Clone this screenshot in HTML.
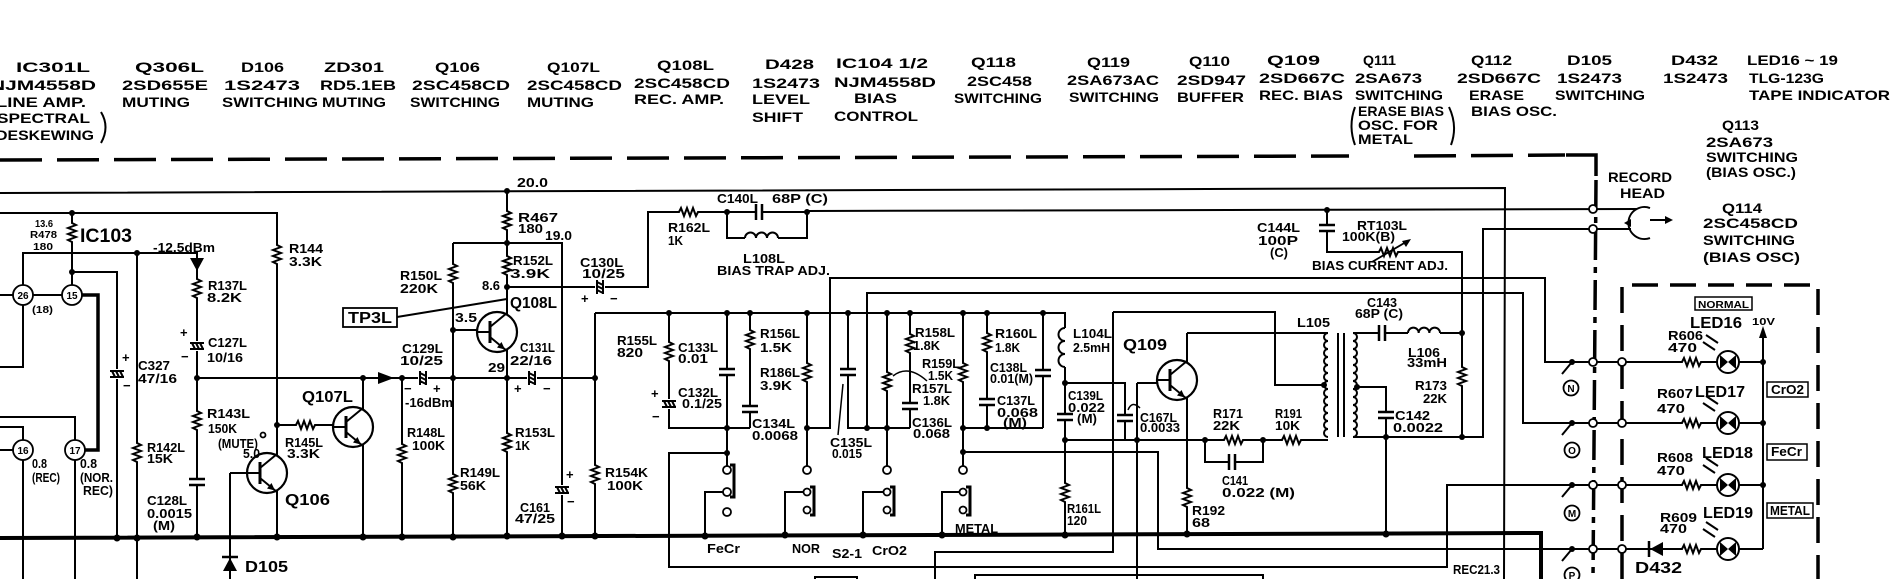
<!DOCTYPE html>
<html><head><meta charset="utf-8">
<style>
html,body{margin:0;padding:0;background:#fff;}
svg{display:block;}
text{font-family:"Liberation Sans",Arial,sans-serif;font-weight:bold;fill:#000;}
.h{font-size:14px;}
.s{font-size:13px;}
.t{font-size:10px;}
.m{font-size:16px;}
.xl{font-size:19px;}
.w{fill:none;stroke:#000;stroke-width:2;}
</style></head><body>
<svg xmlns="http://www.w3.org/2000/svg" width="1903" height="579" viewBox="0 0 1903 579">
<defs>
<g id="rv"><rect x="-6" y="-11" width="12" height="23" fill="#fff"/><path d="M0,-11 v2 l4,2 l-8,3 l8,3 l-8,3 l8,3 l-8,3 l4,2 v2" fill="none" stroke="#000" stroke-width="2"/></g>
<g id="rh"><rect x="-11" y="-6" width="23" height="12" fill="#fff"/><path d="M-11,0 h2 l2,-4 l3,8 l3,-8 l3,8 l3,-8 l3,8 l2,-4 h2" fill="none" stroke="#000" stroke-width="2"/></g>
<g id="cv"><rect x="-9" y="-4" width="18" height="8" fill="#fff"/><path d="M-8,-3 h16 M-8,3 h16" stroke="#000" stroke-width="2.5"/></g>
<g id="ch"><rect x="-4" y="-9" width="8" height="18" fill="#fff"/><path d="M-3,-8 v16 M3,-8 v16" stroke="#000" stroke-width="2.5"/></g>
<g id="ev"><rect x="-8" y="-5" width="16" height="10" fill="#fff"/><path d="M-7,-3 h14 M-7,3 h14 M-5,-3 l3,6 M-1,-3 l3,6 M3,-3 l3,6" stroke="#000" stroke-width="2"/></g>
<g id="eh"><rect x="-5" y="-8" width="10" height="16" fill="#fff"/><path d="M-3,-7 v14 M3,-7 v14 M-3,-5 l6,3 M-3,-1 l6,3 M-3,3 l6,3" stroke="#000" stroke-width="2"/></g>
<g id="q"><circle r="20" fill="#fff" stroke="#000" stroke-width="2.2"/><path d="M-20,0 H-7" stroke="#000" stroke-width="2"/><path d="M-7,-11 V11" stroke="#000" stroke-width="3"/><path d="M-7,-5 L10,-19 M-7,5 L10,19" stroke="#000" stroke-width="2"/><path d="M8,17.5 L0,15.5 L4.5,10 Z" fill="#000"/></g>
<g id="led"><circle r="11" fill="#fff" stroke="#000" stroke-width="2"/><path d="M-8,-7 L0,0 L-8,7 Z M8,-7 L0,0 L8,7 Z" fill="#000"/><path d="M-22,-27 l12,8 M-25,-20 l12,8" stroke="#000" stroke-width="2"/></g>
</defs>

<!-- dashed borders -->
<path d="M0,160 L1349,156 M1414,156 L1565,155" fill="none" stroke="#000" stroke-width="3.5" stroke-dasharray="42 15"/>
<path d="M1566,155 H1596 V176" fill="none" stroke="#000" stroke-width="3.5"/>
<path d="M1596,180 L1593,579" fill="none" stroke="#000" stroke-width="3.5" stroke-dasharray="30 7 6 7"/>
<path d="M1622,579 V285 H1818 V579" fill="none" stroke="#000" stroke-width="3.5" stroke-dasharray="26 12"/>
<path d="M101,112 Q110,127 101,143 M1355,107 Q1348,126 1355,145 M1449,107 Q1458,126 1451,145" fill="none" stroke="#000" stroke-width="2"/>

<!-- wires -->
<path class="w" d="M0,193 L1505,188 L1504,579"/>
<path class="w" d="M0,213 H277 V538 M72,213 V285"/>
<path class="w" d="M23,285 V253 H197 V538 M137,253 V579 M72,272 H117 V538"/>
<path class="w" d="M0,295 H13 M33,295 H62 M23,305 V367 H0"/>
<path d="M82,295 H98 V450 H85" fill="none" stroke="#000" stroke-width="3.5"/>
<path class="w" d="M0,417 H75 V440 M0,427 H23 V440 M0,450 H13 M23,460 V579 M75,460 V579"/>
<path class="w" d="M197,378 H595 M277,425 H333 M363,378 V538 M402,378 V538"/>
<path class="w" d="M453,243 V538 M453,243 H562 V538 M453,330 H477 M507,191 V538"/>
<path class="w" d="M507,287 H648 V212 H727 M727,212 H807 M727,212 V238 H745 M778,238 H807 V212 M807,211 L1637,209"/>
<path class="w" d="M595,313 V538 M595,313 H1065 V328"/>
<path class="w" d="M669,313 V428 H750 M727,313 V466 M750,313 V428"/>
<path class="w" d="M727,453 H669 V567 H1447 V485 H1763"/>
<path class="w" d="M807,313 V466 M807,428 H830 V278 H1545 V362 H1763"/>
<path class="w" d="M848,313 V428 H910 M867,428 V293 H1523 V423 H1763"/>
<path class="w" d="M887,313 V466 M910,313 V428 M963,313 V466 M963,428 H1043 M987,313 V428 M1043,313 V428"/>
<path class="w" d="M963,452 H1158 V549 H1763"/>
<path class="w" d="M1065,367 V536 M1065,383 H1125 V440 M1065,440 H1328"/>
<path class="w" d="M1205,440 V462 H1263 V440"/>
<path class="w" d="M1137,383 V579 M1137,383 H1157 M1187,333 V535 M1187,333 H1328"/>
<path class="w" d="M1113,312 V552 H935 V579 M1113,312 H1275 V385 H1324"/>
<path class="w" d="M1353,333 H1408 M1440,333 H1462 M1353,437 H1483 V229 H1631 M1357,387 H1386 V534"/>
<path class="w" d="M1327,210 V252 H1462 V437 M1763,332 V549"/>
<path class="w" d="M705,537 V492 H723 M785,536 V492 H803 M863,536 V492 H883 M942,536 V492 H959"/>
<path class="w" d="M230,473 H247 M230,473 V579"/>
<path class="w" d="M815,579 V577 H857 V579 M975,579 V575 H1263 V579"/>
<path class="w" d="M397,317 L507,299"/>
<path d="M0,538 L1541,533 L1541,579" fill="none" stroke="#000" stroke-width="4"/>

<!-- coils -->
<path class="w" d="M745,238 a5.5,5.5 0 0 1 11,0 a5.5,5.5 0 0 1 11,0 a5.5,5.5 0 0 1 11,0"/>
<path class="w" d="M1065,328 a6.5,6.5 0 0 0 0,13 a6.5,6.5 0 0 0 0,13 a6.5,6.5 0 0 0 0,13"/>
<path class="w" d="M1408,333 a5.33,5.33 0 0 1 10.67,0 a5.33,5.33 0 0 1 10.67,0 a5.33,5.33 0 0 1 10.67,0"/>
<path class="w" d="M1328,333 a4,4 0 0 0 0,8 a4,4 0 0 0 0,8 a4,4 0 0 0 0,8 a4,4 0 0 0 0,8 a4,4 0 0 0 0,8 a4,4 0 0 0 0,8 a4,4 0 0 0 0,8 a4,4 0 0 0 0,8 a4,4 0 0 0 0,8 a4,4 0 0 0 0,8 a4,4 0 0 0 0,8 a4,4 0 0 0 0,8 a4,4 0 0 0 0,8"/>
<path class="w" d="M1353,333 a4,4 0 0 1 0,8 a4,4 0 0 1 0,8 a4,4 0 0 1 0,8 a4,4 0 0 1 0,8 a4,4 0 0 1 0,8 a4,4 0 0 1 0,8 a4,4 0 0 1 0,8 a4,4 0 0 1 0,8 a4,4 0 0 1 0,8 a4,4 0 0 1 0,8 a4,4 0 0 1 0,8 a4,4 0 0 1 0,8 a4,4 0 0 1 0,8"/>
<path class="w" d="M1338,333 V437 M1344,333 V437"/>

<!-- resistors -->
<use href="#rv" x="72" y="232"/><use href="#rv" x="277" y="254"/><use href="#rv" x="197" y="288"/><use href="#rv" x="197" y="420"/>
<use href="#rv" x="137" y="452"/><use href="#rv" x="402" y="453"/><use href="#rv" x="453" y="273"/><use href="#rv" x="453" y="483"/>
<use href="#rv" x="507" y="220"/><use href="#rv" x="507" y="265"/><use href="#rv" x="507" y="442"/><use href="#rv" x="595" y="474"/>
<use href="#rv" x="669" y="351"/><use href="#rv" x="750" y="339"/><use href="#rv" x="807" y="372"/><use href="#rv" x="887" y="381"/>
<use href="#rv" x="910" y="343"/><use href="#rv" x="963" y="372"/><use href="#rv" x="987" y="342"/><use href="#rv" x="1065" y="492"/>
<use href="#rv" x="1187" y="497"/><use href="#rv" x="1462" y="376"/>
<use href="#rh" x="305" y="425"/><use href="#rh" x="688" y="212"/><use href="#rh" x="1233" y="440"/><use href="#rh" x="1291" y="440"/>
<use href="#rh" x="1388" y="252"/><use href="#rh" x="1691" y="362"/><use href="#rh" x="1691" y="423"/><use href="#rh" x="1691" y="485"/><use href="#rh" x="1691" y="549"/>
<!-- capacitors -->
<use href="#cv" x="197" y="482"/><use href="#cv" x="727" y="372"/><use href="#cv" x="750" y="409"/><use href="#cv" x="848" y="372"/>
<use href="#cv" x="910" y="406"/><use href="#cv" x="987" y="402"/><use href="#cv" x="1043" y="373"/><use href="#cv" x="1065" y="417"/>
<use href="#cv" x="1125" y="418"/><use href="#cv" x="1327" y="228"/><use href="#cv" x="1386" y="415"/>
<use href="#ch" x="759" y="212"/><use href="#ch" x="1232" y="462"/><use href="#ch" x="1382" y="333"/>
<use href="#ev" x="117" y="374"/><use href="#ev" x="197" y="346"/><use href="#ev" x="669" y="404"/><use href="#ev" x="562" y="490"/>
<use href="#eh" x="600" y="287"/><use href="#eh" x="423" y="378"/><use href="#eh" x="532" y="378"/>
<!-- transistors -->
<use href="#q" x="497" y="332"/><use href="#q" x="353" y="427"/><use href="#q" x="267" y="473"/><use href="#q" x="1177" y="380"/>
<!-- LEDs -->
<use href="#led" x="1728" y="362"/><use href="#led" x="1728" y="423"/><use href="#led" x="1728" y="485"/><use href="#led" x="1728" y="549"/>

<!-- misc symbols -->
<path d="M1372,262 L1406,242" stroke="#000" stroke-width="1.8"/><polygon points="1411,239 1402,241 1406,247" fill="#000"/>
<path d="M893,376 Q908,364 927,381 M838,435 L843,384 M1128,410 Q1132,400 1140,408" fill="none" stroke="#000" stroke-width="1.5"/>
<polygon points="190,258 204,258 197,271" fill="#000"/>
<polygon points="378,372 378,384 394,378" fill="#000"/>
<polygon points="223,571 237,571 230,558" fill="#000"/><path d="M222,557 H238" stroke="#000" stroke-width="2.5"/>
<polygon points="1663,542 1663,556 1650,549" fill="#000"/><path d="M1649,541 V557" stroke="#000" stroke-width="2.5"/>
<polygon points="1763,326 1759,338 1767,338" fill="#000"/>
<path d="M1650,208 A16,16 0 1 0 1650,238" fill="none" stroke="#000" stroke-width="2"/>
<polygon points="1624,223 1631,219 1631,227" fill="#000"/>
<path d="M1650,220 H1667" stroke="#000" stroke-width="2"/><polygon points="1673,220 1665,216 1665,224" fill="#000"/>
<path d="M730,465 H734 V497 H730 M810,487 H814 V515 H810 M890,487 H894 V515 H890 M966,487 H970 V515 H966" fill="none" stroke="#000" stroke-width="3"/>
<path d="M1572,362 L1562,374 M1572,423 L1562,435 M1572,485 L1562,497 M1572,549 L1562,561" stroke="#000" stroke-width="2"/>
<rect x="343" y="308" width="54" height="19" fill="#fff" stroke="#000" stroke-width="1.8"/>
<rect x="1695" y="297" width="57" height="13" fill="#fff" stroke="#000" stroke-width="1.5"/>
<rect x="1767" y="382" width="41" height="15" fill="#fff" stroke="#000" stroke-width="1.5"/>
<rect x="1767" y="444" width="40" height="16" fill="#fff" stroke="#000" stroke-width="1.5"/>
<rect x="1767" y="503" width="46" height="15" fill="#fff" stroke="#000" stroke-width="1.5"/>

<!-- open circles -->
<g fill="#fff" stroke="#000" stroke-width="1.8">
<circle cx="23" cy="295" r="10"/><circle cx="72" cy="295" r="10"/><circle cx="23" cy="450" r="10"/><circle cx="75" cy="450" r="10"/>
<circle cx="1593" cy="209" r="4"/><circle cx="1593" cy="229" r="4"/><circle cx="1593" cy="362" r="4"/><circle cx="1593" cy="423" r="4"/><circle cx="1593" cy="485" r="4"/><circle cx="1593" cy="549" r="4"/>
<circle cx="1622" cy="362" r="4"/><circle cx="1622" cy="423" r="4"/><circle cx="1622" cy="485" r="4"/><circle cx="1622" cy="549" r="4"/>
<circle cx="727" cy="470" r="4"/><circle cx="727" cy="492" r="4"/><circle cx="727" cy="512" r="4"/>
<circle cx="807" cy="470" r="4"/><circle cx="807" cy="492" r="3.5"/><circle cx="807" cy="510" r="3.5"/>
<circle cx="887" cy="470" r="4"/><circle cx="887" cy="492" r="3.5"/><circle cx="887" cy="510" r="3.5"/>
<circle cx="963" cy="470" r="4"/><circle cx="963" cy="492" r="3.5"/><circle cx="963" cy="510" r="3.5"/>
<circle cx="1571" cy="388" r="7.5"/><circle cx="1572" cy="450" r="7.5"/><circle cx="1572" cy="513" r="7.5"/><circle cx="1572" cy="575" r="7.5"/>
<circle cx="263" cy="435" r="2.5"/>
</g>

<!-- nodes -->
<g fill="#000">
<circle cx="72" cy="213" r="3"/><circle cx="72" cy="272" r="3"/><circle cx="137" cy="253" r="3"/><circle cx="197" cy="378" r="3"/>
<circle cx="277" cy="425" r="3"/><circle cx="363" cy="378" r="3"/><circle cx="402" cy="378" r="3"/><circle cx="453" cy="330" r="3"/>
<circle cx="453" cy="378" r="3"/><circle cx="507" cy="191" r="3"/><circle cx="507" cy="243" r="3"/><circle cx="507" cy="287" r="3"/>
<circle cx="507" cy="378" r="3"/><circle cx="595" cy="378" r="3"/><circle cx="727" cy="212" r="3"/><circle cx="807" cy="212" r="3"/>
<circle cx="1327" cy="210" r="3"/>
<circle cx="117" cy="538" r="3.5"/><circle cx="137" cy="538" r="3.5"/><circle cx="197" cy="537" r="3.5"/><circle cx="277" cy="537" r="3.5"/>
<circle cx="363" cy="537" r="3.5"/><circle cx="402" cy="537" r="3.5"/><circle cx="453" cy="537" r="3.5"/><circle cx="507" cy="536" r="3.5"/>
<circle cx="562" cy="536" r="3.5"/><circle cx="595" cy="536" r="3.5"/><circle cx="705" cy="536" r="3.5"/><circle cx="785" cy="535" r="3.5"/>
<circle cx="863" cy="535" r="3.5"/><circle cx="942" cy="535" r="3.5"/><circle cx="1065" cy="535" r="3.5"/><circle cx="1187" cy="534" r="3.5"/>
<circle cx="1386" cy="534" r="3.5"/>
<circle cx="669" cy="313" r="3"/><circle cx="727" cy="313" r="3"/><circle cx="750" cy="313" r="3"/><circle cx="807" cy="313" r="3"/>
<circle cx="848" cy="313" r="3"/><circle cx="887" cy="313" r="3"/><circle cx="910" cy="313" r="3"/><circle cx="963" cy="313" r="3"/>
<circle cx="987" cy="313" r="3"/><circle cx="1043" cy="313" r="3"/>
<circle cx="727" cy="428" r="3"/><circle cx="807" cy="428" r="3"/><circle cx="867" cy="428" r="3"/><circle cx="887" cy="428" r="3"/>
<circle cx="963" cy="428" r="3"/><circle cx="987" cy="428" r="3"/><circle cx="727" cy="453" r="3"/><circle cx="963" cy="452" r="3"/>
<circle cx="1065" cy="383" r="3"/><circle cx="1065" cy="440" r="3"/><circle cx="1137" cy="440" r="3"/><circle cx="1205" cy="440" r="3"/>
<circle cx="1263" cy="440" r="3"/><circle cx="1324" cy="385" r="3"/><circle cx="1357" cy="387" r="3"/><circle cx="1386" cy="437" r="3"/>
<circle cx="1462" cy="333" r="3"/><circle cx="1462" cy="437" r="3"/>
<circle cx="1572" cy="362" r="3"/><circle cx="1572" cy="423" r="3"/><circle cx="1572" cy="485" r="3"/><circle cx="1572" cy="549" r="3"/>
<circle cx="1763" cy="362" r="3"/><circle cx="1763" cy="423" r="3"/><circle cx="1763" cy="485" r="3"/>
</g>

<!-- header text -->
<g class="h">
<text x="16" y="72" textLength="74" lengthAdjust="spacingAndGlyphs">IC301L</text>
<text x="-10" y="90" textLength="106" lengthAdjust="spacingAndGlyphs">NJM4558D</text>
<text x="-4" y="107" textLength="90" lengthAdjust="spacingAndGlyphs">LINE AMP.</text>
<text x="-3" y="123" textLength="93" lengthAdjust="spacingAndGlyphs">SPECTRAL</text>
<text x="-4" y="140" textLength="98" lengthAdjust="spacingAndGlyphs">DESKEWING</text>
<text x="135" y="72" textLength="69" lengthAdjust="spacingAndGlyphs">Q306L</text>
<text x="122" y="90" textLength="86" lengthAdjust="spacingAndGlyphs">2SD655E</text>
<text x="122" y="107" textLength="68" lengthAdjust="spacingAndGlyphs">MUTING</text>
<text x="241" y="72" textLength="43" lengthAdjust="spacingAndGlyphs">D106</text>
<text x="224" y="90" textLength="76" lengthAdjust="spacingAndGlyphs">1S2473</text>
<text x="222" y="107" textLength="96" lengthAdjust="spacingAndGlyphs">SWITCHING</text>
<text x="324" y="72" textLength="60" lengthAdjust="spacingAndGlyphs">ZD301</text>
<text x="320" y="90" textLength="76" lengthAdjust="spacingAndGlyphs">RD5.1EB</text>
<text x="322" y="107" textLength="64" lengthAdjust="spacingAndGlyphs">MUTING</text>
<text x="435" y="72" textLength="45" lengthAdjust="spacingAndGlyphs">Q106</text>
<text x="412" y="90" textLength="98" lengthAdjust="spacingAndGlyphs">2SC458CD</text>
<text x="410" y="107" textLength="90" lengthAdjust="spacingAndGlyphs">SWITCHING</text>
<text x="547" y="72" textLength="53" lengthAdjust="spacingAndGlyphs">Q107L</text>
<text x="527" y="90" textLength="95" lengthAdjust="spacingAndGlyphs">2SC458CD</text>
<text x="527" y="107" textLength="67" lengthAdjust="spacingAndGlyphs">MUTING</text>
<text x="657" y="70" textLength="57" lengthAdjust="spacingAndGlyphs">Q108L</text>
<text x="634" y="88" textLength="96" lengthAdjust="spacingAndGlyphs">2SC458CD</text>
<text x="634" y="104" textLength="90" lengthAdjust="spacingAndGlyphs">REC. AMP.</text>
<text x="765" y="69" textLength="49" lengthAdjust="spacingAndGlyphs">D428</text>
<text x="752" y="88" textLength="68" lengthAdjust="spacingAndGlyphs">1S2473</text>
<text x="752" y="104" textLength="58" lengthAdjust="spacingAndGlyphs">LEVEL</text>
<text x="752" y="122" textLength="51" lengthAdjust="spacingAndGlyphs">SHIFT</text>
<text x="836" y="68" textLength="92" lengthAdjust="spacingAndGlyphs">IC104 1/2</text>
<text x="834" y="87" textLength="102" lengthAdjust="spacingAndGlyphs">NJM4558D</text>
<text x="854" y="103" textLength="43" lengthAdjust="spacingAndGlyphs">BIAS</text>
<text x="834" y="121" textLength="84" lengthAdjust="spacingAndGlyphs">CONTROL</text>
<text x="971" y="67" textLength="45" lengthAdjust="spacingAndGlyphs">Q118</text>
<text x="967" y="86" textLength="65" lengthAdjust="spacingAndGlyphs">2SC458</text>
<text x="954" y="103" textLength="88" lengthAdjust="spacingAndGlyphs">SWITCHING</text>
<text x="1087" y="67" textLength="43" lengthAdjust="spacingAndGlyphs">Q119</text>
<text x="1067" y="85" textLength="92" lengthAdjust="spacingAndGlyphs">2SA673AC</text>
<text x="1069" y="102" textLength="90" lengthAdjust="spacingAndGlyphs">SWITCHING</text>
<text x="1189" y="66" textLength="41" lengthAdjust="spacingAndGlyphs">Q110</text>
<text x="1177" y="85" textLength="69" lengthAdjust="spacingAndGlyphs">2SD947</text>
<text x="1177" y="102" textLength="67" lengthAdjust="spacingAndGlyphs">BUFFER</text>
<text x="1267" y="65" textLength="53" lengthAdjust="spacingAndGlyphs">Q109</text>
<text x="1259" y="83" textLength="86" lengthAdjust="spacingAndGlyphs">2SD667C</text>
<text x="1259" y="100" textLength="84" lengthAdjust="spacingAndGlyphs">REC. BIAS</text>
<text x="1363" y="65" textLength="33" lengthAdjust="spacingAndGlyphs">Q111</text>
<text x="1355" y="83" textLength="67" lengthAdjust="spacingAndGlyphs">2SA673</text>
<text x="1355" y="100" textLength="88" lengthAdjust="spacingAndGlyphs">SWITCHING</text>
<text x="1358" y="116" textLength="86" lengthAdjust="spacingAndGlyphs">ERASE BIAS</text>
<text x="1358" y="130" textLength="80" lengthAdjust="spacingAndGlyphs">OSC. FOR</text>
<text x="1358" y="144" textLength="55" lengthAdjust="spacingAndGlyphs">METAL</text>
<text x="1471" y="65" textLength="41" lengthAdjust="spacingAndGlyphs">Q112</text>
<text x="1457" y="83" textLength="84" lengthAdjust="spacingAndGlyphs">2SD667C</text>
<text x="1469" y="100" textLength="55" lengthAdjust="spacingAndGlyphs">ERASE</text>
<text x="1471" y="116" textLength="86" lengthAdjust="spacingAndGlyphs">BIAS OSC.</text>
<text x="1567" y="65" textLength="45" lengthAdjust="spacingAndGlyphs">D105</text>
<text x="1557" y="83" textLength="65" lengthAdjust="spacingAndGlyphs">1S2473</text>
<text x="1555" y="100" textLength="90" lengthAdjust="spacingAndGlyphs">SWITCHING</text>
<text x="1671" y="65" textLength="47" lengthAdjust="spacingAndGlyphs">D432</text>
<text x="1663" y="83" textLength="65" lengthAdjust="spacingAndGlyphs">1S2473</text>
<text x="1747" y="65" textLength="91" lengthAdjust="spacingAndGlyphs">LED16 ~ 19</text>
<text x="1749" y="83" textLength="75" lengthAdjust="spacingAndGlyphs">TLG-123G</text>
<text x="1749" y="100" textLength="141" lengthAdjust="spacingAndGlyphs">TAPE INDICATOR</text>
<text x="1722" y="130" textLength="37" lengthAdjust="spacingAndGlyphs">Q113</text>
<text x="1706" y="147" textLength="67" lengthAdjust="spacingAndGlyphs">2SA673</text>
<text x="1706" y="162" textLength="92" lengthAdjust="spacingAndGlyphs">SWITCHING</text>
<text x="1706" y="177" textLength="90" lengthAdjust="spacingAndGlyphs">(BIAS OSC.)</text>
<text x="1608" y="182" textLength="64" lengthAdjust="spacingAndGlyphs">RECORD</text>
<text x="1620" y="198" textLength="45" lengthAdjust="spacingAndGlyphs">HEAD</text>
<text x="1722" y="213" textLength="40" lengthAdjust="spacingAndGlyphs">Q114</text>
<text x="1703" y="228" textLength="95" lengthAdjust="spacingAndGlyphs">2SC458CD</text>
<text x="1703" y="245" textLength="92" lengthAdjust="spacingAndGlyphs">SWITCHING</text>
<text x="1703" y="262" textLength="97" lengthAdjust="spacingAndGlyphs">(BIAS OSC)</text>
</g>

<!-- body labels -->
<g class="t">
<text x="35" y="227" textLength="18" lengthAdjust="spacingAndGlyphs">13.6</text>
<text x="30" y="238" textLength="27" lengthAdjust="spacingAndGlyphs">R478</text>
<text x="33" y="250" textLength="20" lengthAdjust="spacingAndGlyphs">180</text>
<text x="32" y="313" textLength="21" lengthAdjust="spacingAndGlyphs">(18)</text>
<text x="23" y="299" text-anchor="middle">26</text>
<text x="72" y="299" text-anchor="middle">15</text>
<text x="23" y="454" text-anchor="middle">16</text>
<text x="75" y="454" text-anchor="middle">17</text>
<text x="1571" y="392" text-anchor="middle">N</text>
<text x="1572" y="454" text-anchor="middle">O</text>
<text x="1572" y="517" text-anchor="middle">M</text>
<text x="1572" y="579" text-anchor="middle">P</text>
<text x="1698" y="308" textLength="51" lengthAdjust="spacingAndGlyphs">NORMAL</text>
<text x="1752" y="325" textLength="23" lengthAdjust="spacingAndGlyphs">10V</text>
<text x="1264" y="586" textLength="40" lengthAdjust="spacingAndGlyphs">METAL</text>
<text x="1335" y="586" textLength="49" lengthAdjust="spacingAndGlyphs">NORMAL</text>
<text x="1453" y="587" textLength="47" lengthAdjust="spacingAndGlyphs">REC PAUSE</text>
</g>
<text class="xl" x="80" y="242" textLength="52" lengthAdjust="spacingAndGlyphs">IC103</text>
<text class="m" x="302" y="402" textLength="51" lengthAdjust="spacingAndGlyphs">Q107L</text>
<text class="m" x="285" y="505" textLength="45" lengthAdjust="spacingAndGlyphs">Q106</text>
<text class="m" x="348" y="323" textLength="44" lengthAdjust="spacingAndGlyphs">TP3L</text>
<text class="m" x="510" y="308" textLength="47" lengthAdjust="spacingAndGlyphs">Q108L</text>
<text class="m" x="1123" y="350" textLength="44" lengthAdjust="spacingAndGlyphs">Q109</text>
<text class="m" x="245" y="572" textLength="43" lengthAdjust="spacingAndGlyphs">D105</text>
<text class="m" x="1635" y="573" textLength="47" lengthAdjust="spacingAndGlyphs">D432</text>
<text class="m" x="1690" y="328" textLength="52" lengthAdjust="spacingAndGlyphs">LED16</text>
<text class="m" x="1695" y="397" textLength="50" lengthAdjust="spacingAndGlyphs">LED17</text>
<text class="m" x="1702" y="458" textLength="51" lengthAdjust="spacingAndGlyphs">LED18</text>
<text class="m" x="1703" y="518" textLength="50" lengthAdjust="spacingAndGlyphs">LED19</text>
<g class="s">
<text x="153" y="252" textLength="62" lengthAdjust="spacingAndGlyphs">-12.5dBm</text>
<text x="289" y="253" textLength="34" lengthAdjust="spacingAndGlyphs">R144</text>
<text x="289" y="266" textLength="33" lengthAdjust="spacingAndGlyphs">3.3K</text>
<text x="208" y="290" textLength="39" lengthAdjust="spacingAndGlyphs">R137L</text>
<text x="207" y="302" textLength="35" lengthAdjust="spacingAndGlyphs">8.2K</text>
<text x="208" y="347" textLength="39" lengthAdjust="spacingAndGlyphs">C127L</text>
<text x="207" y="362" textLength="36" lengthAdjust="spacingAndGlyphs">10/16</text>
<text x="180" y="337">+</text><text x="181" y="361">−</text>
<text x="138" y="370" textLength="32" lengthAdjust="spacingAndGlyphs">C327</text>
<text x="138" y="383" textLength="39" lengthAdjust="spacingAndGlyphs">47/16</text>
<text x="122" y="362">+</text><text x="123" y="390">−</text>
<text x="207" y="418" textLength="43" lengthAdjust="spacingAndGlyphs">R143L</text>
<text x="208" y="433" textLength="29" lengthAdjust="spacingAndGlyphs">150K</text>
<text x="147" y="452" textLength="38" lengthAdjust="spacingAndGlyphs">R142L</text>
<text x="147" y="463" textLength="26" lengthAdjust="spacingAndGlyphs">15K</text>
<text x="218" y="448" textLength="40" lengthAdjust="spacingAndGlyphs">(MUTE)</text>
<text x="243" y="458" textLength="17" lengthAdjust="spacingAndGlyphs">5.0</text>
<text x="147" y="505" textLength="40" lengthAdjust="spacingAndGlyphs">C128L</text>
<text x="147" y="518" textLength="45" lengthAdjust="spacingAndGlyphs">0.0015</text>
<text x="153" y="530" textLength="22" lengthAdjust="spacingAndGlyphs">(M)</text>
<text x="32" y="468" textLength="15" lengthAdjust="spacingAndGlyphs">0.8</text>
<text x="32" y="482" textLength="28" lengthAdjust="spacingAndGlyphs">(REC)</text>
<text x="80" y="468" textLength="17" lengthAdjust="spacingAndGlyphs">0.8</text>
<text x="80" y="482" textLength="33" lengthAdjust="spacingAndGlyphs">(NOR.</text>
<text x="83" y="495" textLength="30" lengthAdjust="spacingAndGlyphs">REC)</text>
<text x="285" y="447" textLength="38" lengthAdjust="spacingAndGlyphs">R145L</text>
<text x="287" y="458" textLength="33" lengthAdjust="spacingAndGlyphs">3.3K</text>
<text x="407" y="437" textLength="38" lengthAdjust="spacingAndGlyphs">R148L</text>
<text x="412" y="450" textLength="33" lengthAdjust="spacingAndGlyphs">100K</text>
<text x="402" y="353" textLength="41" lengthAdjust="spacingAndGlyphs">C129L</text>
<text x="400" y="365" textLength="43" lengthAdjust="spacingAndGlyphs">10/25</text>
<text x="404" y="393">−</text><text x="433" y="393">+</text>
<text x="405" y="407" textLength="48" lengthAdjust="spacingAndGlyphs">-16dBm</text>
<text x="400" y="280" textLength="42" lengthAdjust="spacingAndGlyphs">R150L</text>
<text x="400" y="293" textLength="38" lengthAdjust="spacingAndGlyphs">220K</text>
<text x="455" y="322" textLength="22" lengthAdjust="spacingAndGlyphs">3.5</text>
<text x="460" y="477" textLength="40" lengthAdjust="spacingAndGlyphs">R149L</text>
<text x="460" y="490" textLength="26" lengthAdjust="spacingAndGlyphs">56K</text>
<text x="517" y="187" textLength="31" lengthAdjust="spacingAndGlyphs">20.0</text>
<text x="518" y="222" textLength="40" lengthAdjust="spacingAndGlyphs">R467</text>
<text x="518" y="233" textLength="25" lengthAdjust="spacingAndGlyphs">180</text>
<text x="545" y="240" textLength="27" lengthAdjust="spacingAndGlyphs">19.0</text>
<text x="513" y="265" textLength="40" lengthAdjust="spacingAndGlyphs">R152L</text>
<text x="510" y="278" textLength="40" lengthAdjust="spacingAndGlyphs">3.9K</text>
<text x="482" y="290" textLength="18" lengthAdjust="spacingAndGlyphs">8.6</text>
<text x="488" y="372" textLength="17" lengthAdjust="spacingAndGlyphs">29</text>
<text x="520" y="352" textLength="35" lengthAdjust="spacingAndGlyphs">C131L</text>
<text x="510" y="365" textLength="42" lengthAdjust="spacingAndGlyphs">22/16</text>
<text x="514" y="393">+</text><text x="543" y="393">−</text>
<text x="515" y="437" textLength="40" lengthAdjust="spacingAndGlyphs">R153L</text>
<text x="515" y="450" textLength="15" lengthAdjust="spacingAndGlyphs">1K</text>
<text x="520" y="512" textLength="30" lengthAdjust="spacingAndGlyphs">C161</text>
<text x="515" y="523" textLength="40" lengthAdjust="spacingAndGlyphs">47/25</text>
<text x="566" y="479">+</text><text x="567" y="506">−</text>
<text x="580" y="267" textLength="43" lengthAdjust="spacingAndGlyphs">C130L</text>
<text x="582" y="278" textLength="43" lengthAdjust="spacingAndGlyphs">10/25</text>
<text x="581" y="303">+</text><text x="610" y="303">−</text>
<text x="668" y="232" textLength="42" lengthAdjust="spacingAndGlyphs">R162L</text>
<text x="668" y="245" textLength="15" lengthAdjust="spacingAndGlyphs">1K</text>
<text x="717" y="203" textLength="41" lengthAdjust="spacingAndGlyphs">C140L</text>
<text x="772" y="203" textLength="56" lengthAdjust="spacingAndGlyphs">68P (C)</text>
<text x="743" y="263" textLength="42" lengthAdjust="spacingAndGlyphs">L108L</text>
<text x="717" y="275" textLength="113" lengthAdjust="spacingAndGlyphs">BIAS TRAP ADJ.</text>
<text x="605" y="477" textLength="43" lengthAdjust="spacingAndGlyphs">R154K</text>
<text x="607" y="490" textLength="36" lengthAdjust="spacingAndGlyphs">100K</text>
<text x="617" y="345" textLength="40" lengthAdjust="spacingAndGlyphs">R155L</text>
<text x="617" y="357" textLength="26" lengthAdjust="spacingAndGlyphs">820</text>
<text x="678" y="352" textLength="40" lengthAdjust="spacingAndGlyphs">C133L</text>
<text x="678" y="363" textLength="30" lengthAdjust="spacingAndGlyphs">0.01</text>
<text x="678" y="397" textLength="40" lengthAdjust="spacingAndGlyphs">C132L</text>
<text x="682" y="408" textLength="40" lengthAdjust="spacingAndGlyphs">0.1/25</text>
<text x="651" y="398">+</text><text x="652" y="421">−</text>
<text x="760" y="338" textLength="40" lengthAdjust="spacingAndGlyphs">R156L</text>
<text x="760" y="352" textLength="32" lengthAdjust="spacingAndGlyphs">1.5K</text>
<text x="760" y="377" textLength="40" lengthAdjust="spacingAndGlyphs">R186L</text>
<text x="760" y="390" textLength="32" lengthAdjust="spacingAndGlyphs">3.9K</text>
<text x="752" y="428" textLength="43" lengthAdjust="spacingAndGlyphs">C134L</text>
<text x="752" y="440" textLength="46" lengthAdjust="spacingAndGlyphs">0.0068</text>
<text x="707" y="553" textLength="33" lengthAdjust="spacingAndGlyphs">FeCr</text>
<text x="792" y="553" textLength="28" lengthAdjust="spacingAndGlyphs">NOR</text>
<text x="832" y="558" textLength="30" lengthAdjust="spacingAndGlyphs">S2-1</text>
<text x="872" y="555" textLength="35" lengthAdjust="spacingAndGlyphs">CrO2</text>
<text x="830" y="447" textLength="42" lengthAdjust="spacingAndGlyphs">C135L</text>
<text x="832" y="458" textLength="30" lengthAdjust="spacingAndGlyphs">0.015</text>
<text x="915" y="337" textLength="40" lengthAdjust="spacingAndGlyphs">R158L</text>
<text x="913" y="350" textLength="27" lengthAdjust="spacingAndGlyphs">1.8K</text>
<text x="922" y="368" textLength="38" lengthAdjust="spacingAndGlyphs">R159L</text>
<text x="928" y="380" textLength="25" lengthAdjust="spacingAndGlyphs">1.5K</text>
<text x="912" y="393" textLength="40" lengthAdjust="spacingAndGlyphs">R157L</text>
<text x="923" y="405" textLength="27" lengthAdjust="spacingAndGlyphs">1.8K</text>
<text x="912" y="427" textLength="40" lengthAdjust="spacingAndGlyphs">C136L</text>
<text x="913" y="438" textLength="37" lengthAdjust="spacingAndGlyphs">0.068</text>
<text x="995" y="338" textLength="42" lengthAdjust="spacingAndGlyphs">R160L</text>
<text x="995" y="352" textLength="25" lengthAdjust="spacingAndGlyphs">1.8K</text>
<text x="990" y="372" textLength="37" lengthAdjust="spacingAndGlyphs">C138L</text>
<text x="990" y="383" textLength="43" lengthAdjust="spacingAndGlyphs">0.01(M)</text>
<text x="997" y="405" textLength="38" lengthAdjust="spacingAndGlyphs">C137L</text>
<text x="997" y="417" textLength="41" lengthAdjust="spacingAndGlyphs">0.068</text>
<text x="1003" y="427" textLength="24" lengthAdjust="spacingAndGlyphs">(M)</text>
<text x="955" y="533" textLength="43" lengthAdjust="spacingAndGlyphs">METAL</text>
<text x="1073" y="338" textLength="39" lengthAdjust="spacingAndGlyphs">L104L</text>
<text x="1073" y="352" textLength="37" lengthAdjust="spacingAndGlyphs">2.5mH</text>
<text x="1068" y="400" textLength="35" lengthAdjust="spacingAndGlyphs">C139L</text>
<text x="1068" y="412" textLength="37" lengthAdjust="spacingAndGlyphs">0.022</text>
<text x="1077" y="423" textLength="20" lengthAdjust="spacingAndGlyphs">(M)</text>
<text x="1140" y="422" textLength="37" lengthAdjust="spacingAndGlyphs">C167L</text>
<text x="1140" y="432" textLength="40" lengthAdjust="spacingAndGlyphs">0.0033</text>
<text x="1213" y="418" textLength="30" lengthAdjust="spacingAndGlyphs">R171</text>
<text x="1213" y="430" textLength="27" lengthAdjust="spacingAndGlyphs">22K</text>
<text x="1275" y="418" textLength="27" lengthAdjust="spacingAndGlyphs">R191</text>
<text x="1275" y="430" textLength="25" lengthAdjust="spacingAndGlyphs">10K</text>
<text x="1222" y="485" textLength="26" lengthAdjust="spacingAndGlyphs">C141</text>
<text x="1222" y="497" textLength="73" lengthAdjust="spacingAndGlyphs">0.022 (M)</text>
<text x="1067" y="513" textLength="34" lengthAdjust="spacingAndGlyphs">R161L</text>
<text x="1067" y="525" textLength="20" lengthAdjust="spacingAndGlyphs">120</text>
<text x="1192" y="515" textLength="33" lengthAdjust="spacingAndGlyphs">R192</text>
<text x="1192" y="527" textLength="18" lengthAdjust="spacingAndGlyphs">68</text>
<text x="1257" y="232" textLength="43" lengthAdjust="spacingAndGlyphs">C144L</text>
<text x="1258" y="245" textLength="40" lengthAdjust="spacingAndGlyphs">100P</text>
<text x="1270" y="257" textLength="18" lengthAdjust="spacingAndGlyphs">(C)</text>
<text x="1357" y="230" textLength="50" lengthAdjust="spacingAndGlyphs">RT103L</text>
<text x="1342" y="241" textLength="53" lengthAdjust="spacingAndGlyphs">100K(B)</text>
<text x="1312" y="270" textLength="136" lengthAdjust="spacingAndGlyphs">BIAS CURRENT ADJ.</text>
<text x="1297" y="327" textLength="33" lengthAdjust="spacingAndGlyphs">L105</text>
<text x="1367" y="307" textLength="30" lengthAdjust="spacingAndGlyphs">C143</text>
<text x="1355" y="318" textLength="48" lengthAdjust="spacingAndGlyphs">68P (C)</text>
<text x="1408" y="357" textLength="32" lengthAdjust="spacingAndGlyphs">L106</text>
<text x="1407" y="367" textLength="40" lengthAdjust="spacingAndGlyphs">33mH</text>
<text x="1415" y="390" textLength="32" lengthAdjust="spacingAndGlyphs">R173</text>
<text x="1423" y="403" textLength="24" lengthAdjust="spacingAndGlyphs">22K</text>
<text x="1395" y="420" textLength="35" lengthAdjust="spacingAndGlyphs">C142</text>
<text x="1393" y="432" textLength="50" lengthAdjust="spacingAndGlyphs">0.0022</text>
<text x="1453" y="574" textLength="47" lengthAdjust="spacingAndGlyphs">REC21.3</text>
<text x="1668" y="340" textLength="35" lengthAdjust="spacingAndGlyphs">R606</text>
<text x="1668" y="352" textLength="29" lengthAdjust="spacingAndGlyphs">470</text>
<text x="1657" y="398" textLength="36" lengthAdjust="spacingAndGlyphs">R607</text>
<text x="1657" y="413" textLength="28" lengthAdjust="spacingAndGlyphs">470</text>
<text x="1657" y="462" textLength="36" lengthAdjust="spacingAndGlyphs">R608</text>
<text x="1657" y="475" textLength="28" lengthAdjust="spacingAndGlyphs">470</text>
<text x="1660" y="522" textLength="37" lengthAdjust="spacingAndGlyphs">R609</text>
<text x="1660" y="533" textLength="27" lengthAdjust="spacingAndGlyphs">470</text>
<text x="1771" y="394" textLength="33" lengthAdjust="spacingAndGlyphs">CrO2</text>
<text x="1771" y="456" textLength="31" lengthAdjust="spacingAndGlyphs">FeCr</text>
<text x="1770" y="515" textLength="40" lengthAdjust="spacingAndGlyphs">METAL</text>
</g>
</svg>
</body></html>
